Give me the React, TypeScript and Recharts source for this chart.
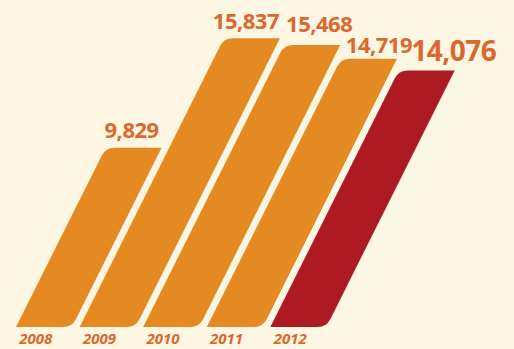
import React from 'react';
import { BarChart, Bar, XAxis, YAxis, Cell, LabelList } from 'recharts';

const years = ['2008', '2009', '2010', '2011', '2012'];
const students = [9829, 15837, 15468, 14719, 14076];

const ORANGE = '#e58a23';
const RED = '#ae1a21';
const TEXT = '#d9692f';
const BG = '#fdf6e3';
const SLANT = 0.5;

// label nudges (dx, dy, font size) per bar
const labelStyle = [
  { dx: -2, dy: -10, size: 22 },
  { dx: -6, dy: -9, size: 22 },
  { dx: 7, dy: -13, size: 22 },
  { dx: 10, dy: -6, size: 22 },
  { dx: 27, dy: -9, size: 28 },
];

const data = years.map((year, i) => ({ year, value: students[i] }));

const SlantBar = (props: any) => {
  const { x, y, width, height, fill } = props;
  if (!height) return null;
  const yb = y + height;
  const s = SLANT * height;
  const r = 9;
  const len = Math.sqrt(SLANT * SLANT + 1);
  const ux = SLANT / len;
  const uy = -1 / len;
  const bl = [x, yb];
  const br = [x + width, yb];
  const tr = [x + width + s, y];
  const tl = [x + s, y];
  const d = [
    `M${bl[0]},${bl[1]}`,
    `L${br[0] - r},${br[1]}`,
    `Q${br[0]},${br[1]} ${br[0] + r * ux},${br[1] + r * uy}`,
    `L${tr[0]},${tr[1]}`,
    `L${tl[0] + r},${tl[1]}`,
    `Q${tl[0]},${tl[1]} ${tl[0] - r * ux},${tl[1] - r * uy}`,
    'Z',
  ].join(' ');
  return <path d={d} fill={fill} />;
};

const ValueLabel = (props: any) => {
  const { x, y, width, height, value, index } = props;
  const st = labelStyle[index];
  const cx = x + width / 2 + SLANT * height + st.dx;
  return (
    <text
      x={cx}
      y={y + st.dy}
      textAnchor="middle"
      fill={TEXT}
      fontSize={st.size}
      fontWeight={700}
      letterSpacing={-0.5}
      fontFamily="'Open Sans', sans-serif"
    >
      {value.toLocaleString('en-US')}
    </text>
  );
};

const YearTick = (props: any) => {
  const { x, y, payload } = props;
  return (
    <text
      x={x - 8}
      y={y + 9}
      textAnchor="middle"
      fill={TEXT}
      fontSize={15}
      fontWeight={700}
      fontStyle="italic"
      fontFamily="'Open Sans', sans-serif"
    >
      {payload.value}
    </text>
  );
};

const App = () => {
  return (
    <div style={{ position: 'fixed', left: 0, top: 0, width: 514, height: 349, background: BG }}>
      <BarChart
        width={514}
        height={349}
        data={data}
        margin={{ top: 8, right: 184, bottom: 0, left: 12 }}
        barCategoryGap={4}
      >
        <XAxis dataKey="year" axisLine={false} tickLine={false} height={22} tick={<YearTick />} interval={0} />
        <YAxis hide domain={[0, 17500]} />
        <Bar dataKey="value" shape={<SlantBar />} isAnimationActive={false}>
          {data.map((d, i) => (
            <Cell key={d.year} fill={i === data.length - 1 ? RED : ORANGE} />
          ))}
          <LabelList dataKey="value" content={<ValueLabel />} />
        </Bar>
      </BarChart>
    </div>
  );
};

export default App;
